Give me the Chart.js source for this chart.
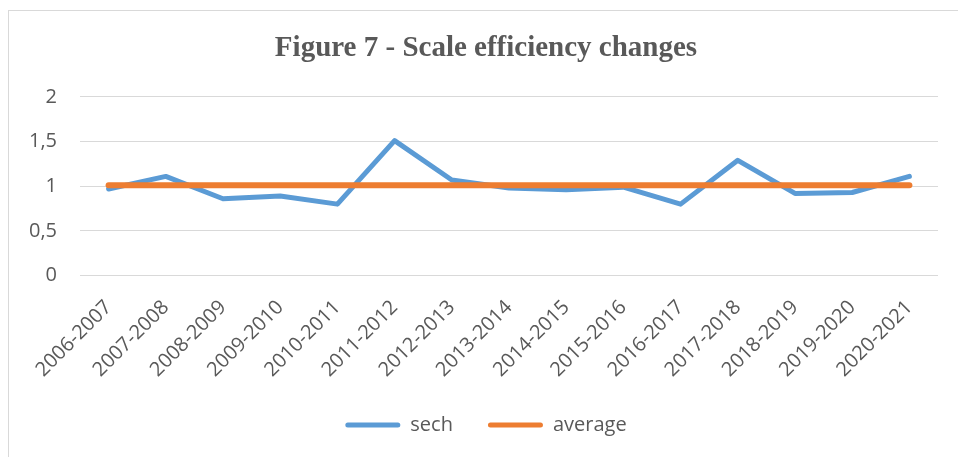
<!DOCTYPE html>
<html lang="en">
<head>
  <meta charset="UTF-8">
  <title>Figure 7 - Scale efficiency changes</title>
  <style>
    body {
      margin: 0;
      background: #fff;
      overflow: hidden;
    }

    .frame {
      position: absolute;
      left: 8px;
      top: 10px;
      width: 1000px;
      height: 500px;
      border: 1px solid #d9d9d9;
    }

    .wrap {
      position: absolute;
      left: 0;
      top: 0;
      width: 958px;
      height: 457px;
    }
  </style>
</head>
<body>
  <div class="frame"></div>
  <div class="wrap">
    <canvas id="chart" width="958" height="457"></canvas>
  </div>

  <script src="https://cdn.jsdelivr.net/npm/chart.js"></script>
  <script>
    const periods = ['2006-2007', '2007-2008', '2008-2009', '2009-2010', '2010-2011',
      '2011-2012', '2012-2013', '2013-2014', '2014-2015', '2015-2016',
      '2016-2017', '2017-2018', '2018-2019', '2019-2020', '2020-2021'];
    const sech = [0.97, 1.11, 0.86, 0.89, 0.80, 1.51, 1.07, 0.98, 0.96, 0.99,
      0.80, 1.29, 0.92, 0.93, 1.11];
    const average = [1.01, 1.01, 1.01, 1.01, 1.01, 1.01, 1.01, 1.01, 1.01, 1.01,
      1.01, 1.01, 1.01, 1.01, 1.01];
    const yTicks = [0, 0.5, 1, 1.5, 2];

    const grey = '#595959';
    const tickFont = { family: 'Open Sans', size: 20 };

    const ctx = document.getElementById('chart').getContext('2d');
    new Chart(ctx, {
      type: 'line',
      data: {
        labels: periods,
        datasets: [{
          label: 'sech',
          data: sech,
          borderColor: '#5b9bd5',
          backgroundColor: '#5b9bd5',
          borderWidth: 5,
          borderCapStyle: 'round',
          borderJoinStyle: 'round',
          pointRadius: 0,
          tension: 0,
          order: 1
        }, {
          label: 'average',
          data: average,
          borderColor: '#ed7d31',
          backgroundColor: '#ed7d31',
          borderWidth: 6,
          borderCapStyle: 'round',
          pointRadius: 0,
          tension: 0,
          order: 0
        }]
      },
      options: {
        responsive: false,
        animation: false,
        layout: {
          padding: { left: 14, right: 0, top: 0, bottom: 12 }
        },
        plugins: {
          title: {
            display: true,
            text: 'Figure 7 - Scale efficiency changes',
            color: grey,
            font: { family: 'Liberation Serif', size: 29, weight: 'bold' },
            padding: { top: 31, bottom: 31 }
          },
          legend: {
            position: 'bottom',
            labels: {
              color: grey,
              font: tickFont,
              boxWidth: 55,
              boxHeight: 5,
              padding: 35,
              useBorderRadius: true,
              borderRadius: 2.5,
              sort: (a, b) => a.datasetIndex - b.datasetIndex,
              generateLabels: chart =>
                Chart.defaults.plugins.legend.labels.generateLabels(chart)
                  .map(item => Object.assign(item, { lineWidth: 0 }))
            }
          },
          tooltip: { enabled: false }
        },
        scales: {
          x: {
            offset: true,
            grid: { display: false, drawTicks: false },
            border: { display: false },
            ticks: {
              color: grey,
              font: tickFont,
              minRotation: 45,
              maxRotation: 45,
              padding: 20,
              autoSkip: false
            },
            afterFit: scale => { scale.height = 104.3; }
          },
          y: {
            min: 0,
            max: 2,
            afterBuildTicks: scale => {
              scale.ticks = yTicks.map(v => ({ value: v }));
            },
            grid: { color: '#d9d9d9', lineWidth: 1, drawTicks: false },
            border: { display: false },
            ticks: {
              color: grey,
              font: tickFont,
              padding: 23,
              callback: v => String(v).replace('.', ',')
            },
            afterFit: scale => { scale.width = 66; }
          },
          // empty right-hand axis, only keeps the plot clear of the right edge
          yRight: {
            position: 'right',
            min: 0,
            max: 2,
            grid: { display: false, drawTicks: false },
            border: { display: false },
            ticks: { display: false },
            afterFit: scale => { scale.width = 20; }
          }
        }
      }
    });
  </script>
</body>
</html>
